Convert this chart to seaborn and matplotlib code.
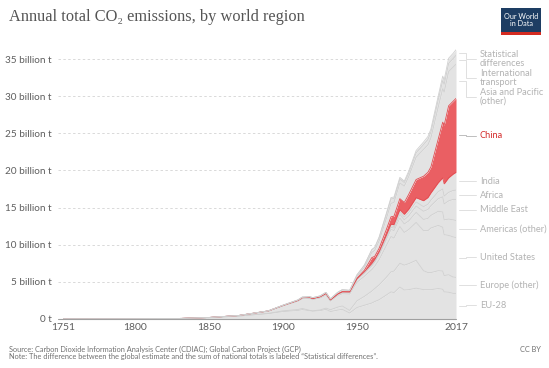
import numpy as np
import pandas as pd
import matplotlib
matplotlib.use("Agg")
import matplotlib.pyplot as plt
from matplotlib.patches import Rectangle
from matplotlib.lines import Line2D
import seaborn as sns

# ---------------- data (billion tonnes CO2) ----------------
years = [1751, 1800, 1830, 1850, 1870, 1890, 1900, 1910, 1913, 1918,
         1920, 1925, 1929, 1932, 1937, 1940, 1945, 1950, 1955, 1960,
         1962, 1965, 1970, 1973, 1975, 1979, 1982, 1985, 1990, 1995,
         1998, 2000, 2005, 2008, 2009, 2012, 2015, 2017]

eu28 = [0.009, 0.028, 0.06, 0.18, 0.38, 0.72, 1.0, 1.15, 1.27, 1.1,
        1.05, 1.12, 1.3, 1.0, 1.2, 1.3, 0.8, 1.55, 1.85, 2.15,
        2.35, 2.6, 3.25, 3.65, 3.55, 4.3, 3.9, 3.95, 4.15, 3.95,
        3.95, 3.95, 4.1, 4.0, 3.65, 3.6, 3.45, 3.45]
europe_other = [0.0, 0.0005, 0.002, 0.005, 0.015, 0.04, 0.1, 0.13, 0.15, 0.06,
                0.05, 0.1, 0.16, 0.25, 0.4, 0.45, 0.35, 0.9, 1.2, 1.6,
                1.75, 2.0, 2.4, 2.7, 2.9, 3.2, 3.35, 3.5, 3.75, 2.55,
                2.3, 2.3, 2.4, 2.45, 2.2, 2.35, 2.2, 2.15]
united_states = [0.0, 0.0025, 0.01, 0.02, 0.07, 0.3, 0.66, 1.1, 1.3, 1.6,
                 1.5, 1.6, 1.75, 1.15, 1.55, 1.65, 2.2, 2.5, 2.7, 2.9,
                 3.0, 3.4, 4.3, 4.75, 4.45, 4.95, 4.4, 4.6, 5.1, 5.4,
                 5.65, 6.0, 6.1, 5.9, 5.5, 5.3, 5.4, 5.35]
americas_other = [0.0, 0.0, 0.0005, 0.001, 0.005, 0.02, 0.06, 0.1, 0.12, 0.11,
                  0.12, 0.13, 0.17, 0.12, 0.15, 0.17, 0.2, 0.33, 0.42, 0.5,
                  0.55, 0.62, 0.8, 0.95, 1.0, 1.15, 1.15, 1.15, 1.35, 1.5,
                  1.65, 1.7, 1.9, 2.05, 2.0, 2.2, 2.3, 2.3]
middle_east = [0.0, 0.0, 0.0, 0.0, 0.0, 0.0005, 0.001, 0.002, 0.003, 0.003,
               0.004, 0.006, 0.01, 0.01, 0.015, 0.02, 0.02, 0.04, 0.06, 0.1,
               0.12, 0.15, 0.22, 0.3, 0.33, 0.48, 0.55, 0.68, 0.85, 1.1,
               1.2, 1.3, 1.7, 2.05, 2.15, 2.45, 2.75, 2.85]
africa = [0.0, 0.0, 0.0, 0.0, 0.0005, 0.002, 0.005, 0.008, 0.01, 0.012,
          0.012, 0.015, 0.02, 0.02, 0.025, 0.03, 0.035, 0.05, 0.07, 0.1,
          0.1, 0.12, 0.17, 0.2, 0.22, 0.32, 0.38, 0.45, 0.55, 0.62,
          0.7, 0.75, 0.95, 1.05, 1.05, 1.15, 1.2, 1.25]
india = [0.0, 0.0, 0.0, 0.0, 0.001, 0.005, 0.01, 0.015, 0.018, 0.02,
         0.022, 0.022, 0.025, 0.025, 0.03, 0.035, 0.04, 0.05, 0.07, 0.11,
         0.13, 0.15, 0.19, 0.21, 0.24, 0.3, 0.36, 0.45, 0.58, 0.8,
         0.9, 0.97, 1.2, 1.5, 1.65, 1.95, 2.2, 2.4]
china = [0.0, 0.0, 0.0, 0.0, 0.0, 0.0005, 0.001, 0.005, 0.008, 0.008,
         0.01, 0.012, 0.015, 0.012, 0.02, 0.03, 0.02, 0.08, 0.2, 0.8,
         0.44, 0.5, 0.8, 1.0, 1.15, 1.5, 1.6, 2.0, 2.45, 3.3,
         3.4, 3.5, 5.9, 7.5, 7.9, 9.7, 9.8, 9.95]
asia_pacific = [0.0, 0.0, 0.0, 0.001, 0.003, 0.01, 0.03, 0.06, 0.07, 0.09,
                0.1, 0.1, 0.13, 0.13, 0.2, 0.25, 0.15, 0.25, 0.4, 0.7,
                0.8, 1.0, 1.5, 1.8, 1.85, 2.1, 2.2, 2.4, 3.0, 3.6,
                3.7, 3.9, 4.3, 4.5, 4.45, 4.6, 4.6, 4.6]
transport = [0.0, 0.0, 0.0, 0.0, 0.0, 0.0, 0.0, 0.0, 0.0, 0.0,
             0.0, 0.0, 0.0, 0.0, 0.0, 0.0, 0.05, 0.2, 0.28, 0.35,
             0.37, 0.42, 0.55, 0.6, 0.52, 0.52, 0.48, 0.48, 0.6, 0.65,
             0.72, 0.8, 1.0, 1.1, 1.05, 1.1, 1.15, 1.2]
stat_diff = [0.0, 0.0, 0.0, 0.0, 0.0, 0.0, 0.0, 0.0, 0.0, 0.0,
             0.0, 0.0, 0.0, 0.0, 0.0, 0.0, 0.0, 0.0, 0.0, 0.05,
             0.05, 0.1, 0.15, 0.2, 0.2, 0.25, 0.2, 0.25, 0.3, 0.35,
             0.4, 0.4, 0.5, 0.6, 0.6, 0.7, 0.7, 0.75]

region_names = ["EU-28", "Europe (other)", "United States", "Americas (other)",
                "Middle East", "Africa", "India", "China",
                "Asia and Pacific (other)", "International transport",
                "Statistical differences"]
region_labels = ["EU-28", "Europe (other)", "United States", "Americas (other)",
                 "Middle East", "Africa", "India", "China",
                 "Asia and Pacific\n(other)", "International\ntransport",
                 "Statistical\ndifferences"]
series = [eu28, europe_other, united_states, americas_other, middle_east,
          africa, india, china, asia_pacific, transport, stat_diff]
x_ticks = [1751, 1800, 1850, 1900, 1950, 2017]
y_ticks = [0, 5, 10, 15, 20, 25, 30, 35]
y_tick_labels = ["0 t", "5 billion t", "10 billion t", "15 billion t",
                 "20 billion t", "25 billion t", "30 billion t", "35 billion t"]

# ---------------- style ----------------
sns.set_theme(style="white")
plt.rcParams['font.family'] = ['Lato', 'DejaVu Sans']

W, H = 549, 368
GRAY_FILL = "#e3e3e3"
GRAY_LINE = "#d0d0d0"
RED_FILL = "#ea5f63"
RED_LINE = "#e24d52"
RED_TEXT = "#d42c2c"
LABEL_GRAY = "#b3b3b3"
TICK_GRAY = "#5e5e5e"

fig = plt.figure(figsize=(W / 100, H / 100), dpi=100)
fig.patch.set_facecolor("white")
ax = fig.add_axes([63 / W, 1 - 319 / H, 393 / W, 270 / H])
ax.set_facecolor("white")
ax.set_xlim(1751, 2017)
ax.set_ylim(0, 36.35)

arr = np.array(series, dtype=float)
cum = np.cumsum(arr, axis=0)
lower = np.vstack([np.zeros(len(years)), cum[:-1]])

# grid lines (behind)
px_per_year = 393 / (2017 - 1751)
x_left = 1751 - 5 / px_per_year
for yt in y_ticks[1:]:
    ax.plot([x_left, 2017], [yt, yt], color="#d9d9d9", lw=0.7,
            ls=(0, (2.5, 2.5)), clip_on=False, zorder=0)
ax.plot([x_left, 2017], [0, 0], color="#a0a0a0", lw=0.8, clip_on=False, zorder=6)

# stacked fills
for i, name in enumerate(region_names):
    col = RED_FILL if name == "China" else GRAY_FILL
    ax.fill_between(years, lower[i], cum[i], color=col, lw=0, zorder=2)

# band boundary lines via seaborn
long = pd.DataFrame({
    "year": np.tile(years, len(region_names)),
    "top": cum.ravel(),
    "region": np.repeat(region_names, len(years)),
})
pal = {n: GRAY_LINE for n in region_names}
pal["China"] = RED_LINE
pal["India"] = RED_LINE
sns.lineplot(data=long, x="year", y="top", hue="region", palette=pal,
             legend=False, linewidth=0.6, estimator=None, sort=False,
             ax=ax, zorder=3)
ax.set_xlabel("")
ax.set_ylabel("")

# ticks
ax.set_xticks(x_ticks)
ax.set_xticklabels([str(t) for t in x_ticks])
ax.set_yticks(y_ticks)
ax.set_yticklabels(y_tick_labels)
ax.tick_params(axis="x", length=0, pad=3, labelsize=7.5, labelcolor=TICK_GRAY)
ax.tick_params(axis="y", length=0, pad=8, labelsize=7.2, labelcolor=TICK_GRAY)
for s in ax.spines.values():
    s.set_visible(False)

# right-hand labels with elbow leader lines
label_py = {
    "Statistical differences": 59, "International transport": 78,
    "Asia and Pacific (other)": 97, "China": 136, "India": 181,
    "Africa": 195, "Middle East": 210, "Americas (other)": 229,
    "United States": 257, "Europe (other)": 285, "EU-28": 305,
}
fig.canvas.draw()
for i, name in enumerate(region_names):
    yc = (lower[i][-1] + cum[i][-1]) / 2
    disp = ax.transData.transform((2017, yc))
    start_py = H - disp[1]
    ty = label_py[name]
    col = RED_TEXT if name == "China" else LABEL_GRAY
    lcol = "#bdbdbd" if name == "China" else "#e0e0e0"
    xs = [459, 466, 466, 476]
    ys = [start_py, start_py, ty, ty]
    fig.add_artist(Line2D([x / W for x in xs], [1 - y / H for y in ys],
                          color=lcol, lw=0.7))
    fig.text(480 / W, 1 - ty / H, region_labels[i], color=col, fontsize=6.7,
             ha="left", va="center", linespacing=1.0)

# title
fig.text(9 / W, 1 - 17 / H, "Annual total CO₂ emissions, by world region",
         family=["Liberation Serif", "DejaVu Serif"], fontsize=11.8,
         color="#555555", ha="left", va="center")

# logo
fig.add_artist(Rectangle((501 / W, 1 - 35 / H), 40 / W, 27 / H,
                         transform=fig.transFigure, color="#1d3d63", lw=0))
fig.add_artist(Rectangle((501 / W, 1 - 35 / H), 40 / W, 3 / H,
                         transform=fig.transFigure, color="#d42b21", lw=0))
fig.text(521 / W, 1 - 20 / H, "Our World\nin Data", color="white",
         fontsize=5.2, ha="center", va="center", linespacing=1.0)

# footer
fig.text(9 / W, 1 - 349 / H,
         "Source: Carbon Dioxide Information Analysis Center (CDIAC); Global Carbon Project (GCP)",
         fontsize=5.3, color="#707070", ha="left", va="center")
fig.text(9 / W, 1 - 357 / H,
         "Note: The difference between the global estimate and the sum of national totals is labeled \u201cStatistical differences\u201d.",
         fontsize=5.3, color="#707070", ha="left", va="center")
fig.text(541 / W, 1 - 349 / H, "CC BY", fontsize=5.3, color="#707070",
         ha="right", va="center")

fig.savefig("out.png", dpi=100)
